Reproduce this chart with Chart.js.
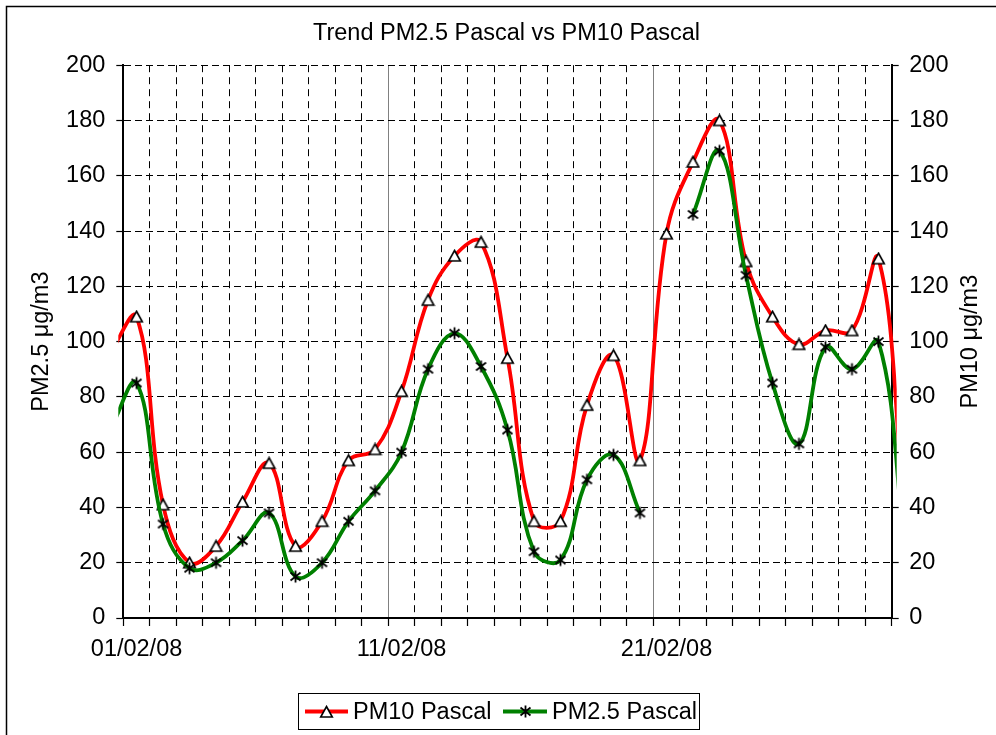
<!DOCTYPE html>
<html>
<head>
<meta charset="utf-8">
<script src="https://cdn.jsdelivr.net/npm/chart.js@4.4.1/dist/chart.umd.min.js"></script>
<style>
html,body{margin:0;padding:0;background:#fff;}
#wrap{position:relative;width:996px;height:735px;overflow:hidden;}
canvas{display:block;}
</style>
</head>
<body>
<div id="wrap"><canvas id="c" width="996" height="735"></canvas></div>
<script>
// ---- data ----
const dates = ['31/01/08',
  '01/02/08','02/02/08','03/02/08','04/02/08','05/02/08','06/02/08','07/02/08','08/02/08','09/02/08','10/02/08',
  '11/02/08','12/02/08','13/02/08','14/02/08','15/02/08','16/02/08','17/02/08','18/02/08','19/02/08','20/02/08',
  '21/02/08','22/02/08','23/02/08','24/02/08','25/02/08','26/02/08','27/02/08','28/02/08','29/02/08',
  '01/03/08'];
const pm10 = [96,
  109, 41, 20, 26, 42, 56, 26, 35, 57, 61,
  82, 115, 131, 136, 94, 35, 35, 77, 95, 57,
  139, 165, 180, 129, 109, 99, 104, 104, 130,
  36];
const pm25 = [68,
  85, 34, 18, 20, 28, 38, 15, 20, 35, 46,
  60, 90, 103, 91, 68, 24, 21, 50, 59, 38,
  null, 146, 169, 124, 85, 63, 98, 90, 100,
  25];
const tickDates = ['01/02/08', '11/02/08', '21/02/08'];
const seriesNames = ['PM10 Pascal', 'PM2.5 Pascal'];
const chartTitle = 'Trend PM2.5 Pascal vs PM10 Pascal';
const leftAxisTitle = 'PM2.5 \u03bcg/m3';
const rightAxisTitle = 'PM10 \u03bcg/m3';
const yMin = 0, yMax = 200, yStep = 20;

// ---- styles ----
const FONT = "'Liberation Sans', Arial, sans-serif";
const FS = 23.5;
const RED = '#ff0000', GREEN = '#008000';

function makeTri() {
  const c = document.createElement('canvas'); c.width = 15; c.height = 14;
  const g = c.getContext('2d');
  g.lineWidth = 1.6; g.strokeStyle = '#000'; g.fillStyle = '#fff';
  g.beginPath(); g.moveTo(7.5, 1.5); g.lineTo(13.3, 12); g.lineTo(1.7, 12); g.closePath();
  g.fill(); g.stroke();
  return c;
}
function makeStar() {
  const c = document.createElement('canvas'); c.width = 15; c.height = 15;
  const g = c.getContext('2d');
  g.strokeStyle = '#000'; g.lineWidth = 1.8;
  g.beginPath();
  g.moveTo(2.5, 3.5); g.lineTo(12.5, 11.5);
  g.moveTo(12.5, 3.5); g.lineTo(2.5, 11.5);
  g.moveTo(7.5, 1.5); g.lineTo(7.5, 13.5);
  g.stroke();
  return c;
}
const triImg = makeTri();
const starImg = makeStar();

const toPoints = (arr) => arr.map((v, i) => ({x: i - 0.5, y: v}));

const extras = {
  id: 'extras',
  beforeDraw(chart) {
    const ctx = chart.ctx;
    ctx.save();
    ctx.strokeStyle = '#000'; ctx.lineWidth = 1.5;
    ctx.beginPath(); ctx.moveTo(6.5, 735); ctx.lineTo(6.5, 6.5); ctx.lineTo(996, 6.5); ctx.stroke();
    ctx.restore();
  },
  afterDraw(chart) {
    const ctx = chart.ctx;
    const area = chart.chartArea;
    ctx.save();
    // right axis title, reading bottom-to-top
    ctx.font = FS + 'px ' + FONT;
    ctx.fillStyle = '#000';
    ctx.textAlign = 'center'; ctx.textBaseline = 'middle';
    ctx.translate(971, (area.top + area.bottom) / 2);
    ctx.rotate(-Math.PI / 2);
    ctx.fillText(rightAxisTitle, 0, 0);
    ctx.restore();

    // legend
    ctx.save();
    ctx.strokeStyle = '#000'; ctx.lineWidth = 1;
    ctx.strokeRect(298.5, 693.5, 401, 36);
    const ly = 711.5;
    const items = [
      {x0: 305, x1: 348, color: RED, img: triImg, tx: 353, label: chart.data.datasets[0].label},
      {x0: 503, x1: 547, color: GREEN, img: starImg, tx: 552, label: chart.data.datasets[1].label}
    ];
    ctx.font = FS + 'px ' + FONT;
    ctx.fillStyle = '#000'; ctx.textAlign = 'left'; ctx.textBaseline = 'middle';
    for (const it of items) {
      ctx.strokeStyle = it.color; ctx.lineWidth = 4;
      ctx.beginPath(); ctx.moveTo(it.x0, ly); ctx.lineTo(it.x1, ly); ctx.stroke();
      const cx = (it.x0 + it.x1) / 2;
      ctx.drawImage(it.img, Math.round(cx - it.img.width / 2), Math.round(ly - it.img.height / 2));
      ctx.fillText(it.label, it.tx, ly + 1);
    }
    ctx.restore();
  }
};

Chart.defaults.font.family = FONT;
Chart.defaults.font.size = FS;
Chart.defaults.color = '#000';

const font = {family: FONT, size: FS, weight: 'normal'};

new Chart(document.getElementById('c'), {
  type: 'line',
  data: {
    datasets: [
      {
        label: seriesNames[0],
        data: toPoints(pm10),
        yAxisID: 'y2',
        borderColor: RED, backgroundColor: RED,
        borderWidth: 3.8, tension: 0.4,
        pointStyle: triImg, pointRadius: 6,
        spanGaps: false, fill: false,
        clip: {left: 5, right: 5, top: 10, bottom: 10},
        order: 1
      },
      {
        label: seriesNames[1],
        data: toPoints(pm25),
        yAxisID: 'y',
        borderColor: GREEN, backgroundColor: GREEN,
        borderWidth: 3.8, tension: 0.4,
        pointStyle: starImg, pointRadius: 6,
        spanGaps: false, fill: false,
        clip: {left: 5, right: 5, top: 10, bottom: 10},
        order: 0
      }
    ]
  },
  options: {
    responsive: false,
    animation: false,
    devicePixelRatio: 1,
    events: [],
    layout: {padding: {left: 20, right: 3, top: 0, bottom: 67}},
    plugins: {
      legend: {display: false},
      tooltip: {enabled: false},
      title: {
        display: true, text: chartTitle, color: '#000',
        font: font, padding: {top: 19, bottom: 18}
      }
    },
    scales: {
      x: {
        type: 'linear', min: 0, max: dates.length - 2,
        afterBuildTicks: (s) => { const t = []; for (let i = 0; i <= dates.length - 2; i++) t.push({value: i}); s.ticks = t; },
        afterFit: (s) => { s.height = 50; },
        ticks: {
          autoSkip: false, maxRotation: 0, minRotation: 0,
          labelOffset: 13.25, padding: 9, color: '#000', font: font,
          callback: (v) => { const d = dates[v + 1]; return tickDates.includes(d) ? d : ''; }
        },
        grid: {
          color: (c) => {
            const v = c.tick ? c.tick.value : -1;
            if (v <= 0 || v >= dates.length - 2) return 'rgba(0,0,0,0)';
            return tickDates.includes(dates[v + 1]) ? '#808080' : '#000';
          },
          lineWidth: 1, tickLength: 8, tickColor: '#000', tickWidth: 1.2
        },
        border: {
          display: true, color: '#000', width: 2,
          dash: (c) => (c.type === 'tick' && c.tick && !tickDates.includes(dates[c.tick.value + 1])) ? [7, 5] : []
        }
      },
      y: {
        position: 'left', min: yMin, max: yMax,
        afterFit: (s) => { s.width = 103.3; },
        ticks: {stepSize: yStep, padding: 11, color: '#000', font: font},
        grid: {
          color: (c) => (c.tick && c.tick.value === yMin) ? 'rgba(0,0,0,0)' : '#000',
          lineWidth: 1, tickLength: 7, tickColor: '#000', tickWidth: 1.2
        },
        border: {
          display: true, color: '#000', width: 2,
          dash: (c) => (c.type === 'tick') ? [7, 4] : []
        },
        title: {display: true, text: leftAxisTitle, color: '#000', font: font, padding: {top: 7, bottom: 0}}
      },
      y2: {
        position: 'right', min: yMin, max: yMax,
        afterFit: (s) => { s.width = 101.3; },
        ticks: {stepSize: yStep, padding: 10.6, color: '#000', font: font},
        grid: {drawOnChartArea: false, tickLength: 7, tickColor: '#000', tickWidth: 1.2},
        border: {display: true, color: '#000', width: 2},
        title: {display: false}
      }
    }
  },
  plugins: [extras]
});
</script>
</body>
</html>
